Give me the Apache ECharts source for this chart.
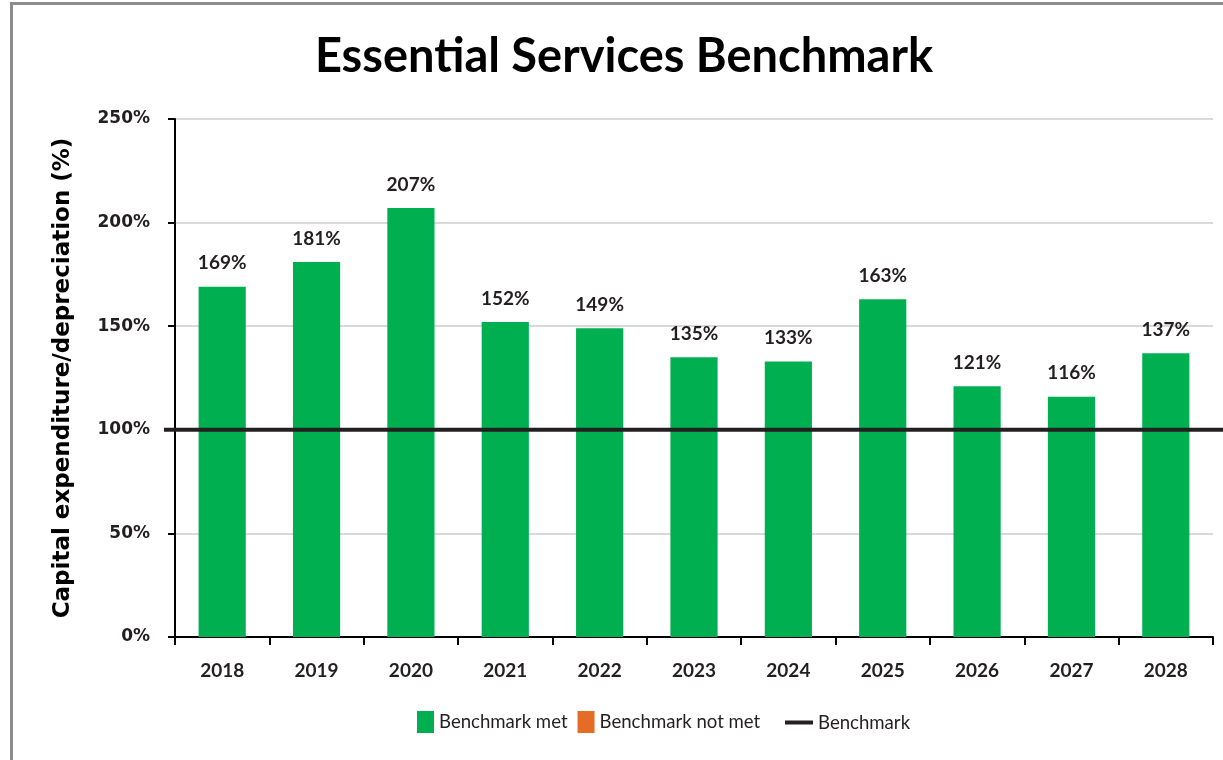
<!DOCTYPE html>
<html>
<head>
<meta charset="utf-8">
<title>Essential Services Benchmark</title>
<script src="https://cdn.jsdelivr.net/npm/echarts@6/dist/echarts.min.js"></script>
<style>
  html, body { margin: 0; padding: 0; background: #ffffff; }
  #chart { width: 1223px; height: 760px; }
</style>
</head>
<body>
<div id="chart"></div>
<script>
// Capital expenditure as a share of depreciation, by year
const years = ['2018', '2019', '2020', '2021', '2022', '2023', '2024', '2025', '2026', '2027', '2028'];
const benchmarkMet = [169, 181, 207, 152, 149, 135, 133, 163, 121, 116, 137];
const benchmarkNotMet = [];
const benchmarkLevel = 100;
const yTicks = [0, 50, 100, 150, 200, 250];

const ink = '#231f20';
const fontFamily = 'Lato, "Open Sans", sans-serif';
const wideFont = '"DejaVu Sans", Lato, sans-serif';

// Shared vertical extent of the plot
const plotTop = 119;
const plotBottom = 123;

const chart = echarts.init(document.getElementById('chart'), null, { renderer: 'canvas' });

chart.setOption({
  backgroundColor: '#ffffff',
  animation: false,
  graphic: [{
    type: 'rect',
    shape: { x: 11.5, y: 3.5, width: 1400, height: 900 },
    style: { fill: 'none', stroke: '#8c8c8c', lineWidth: 3 },
    silent: true,
    z: 100
  }],
  title: {
    text: 'Essential Services Benchmark',
    left: 619,
    textAlign: 'center',
    top: 28,
    textStyle: { fontFamily, fontWeight: 'bold', fontSize: 47, color: '#000000' }
  },
  legend: [{
    data: ['Benchmark met', 'Benchmark not met'],
    left: 417,
    top: 711,
    padding: 0,
    icon: 'rect',
    itemWidth: 17,
    itemHeight: 22,
    itemGap: 10,
    textStyle: { fontFamily, fontSize: 18.6, color: ink }
  }, {
    data: ['Benchmark'],
    left: 785,
    top: 713,
    padding: 0,
    icon: 'rect',
    itemWidth: 28,
    itemHeight: 4,
    textStyle: { fontFamily, fontSize: 18.6, color: ink }
  }],
  grid: [
    // bars and axes
    { left: 175, right: 10, top: plotTop, bottom: plotBottom, containLabel: false },
    // benchmark rule, which runs slightly past the axis and out to the edge
    { left: 164, right: 0, top: plotTop, bottom: plotBottom, containLabel: false }
  ],
  xAxis: [{
    type: 'category',
    gridIndex: 0,
    data: years,
    axisLine: { lineStyle: { color: '#000000', width: 2 } },
    axisTick: { show: true, length: 8, lineStyle: { color: '#000000', width: 2 } },
    axisLabel: { margin: 24, fontFamily, fontWeight: 'bold', fontSize: 19, color: ink }
  }, {
    type: 'value',
    gridIndex: 1,
    min: 0,
    max: 1,
    show: false
  }],
  yAxis: [{
    type: 'value',
    gridIndex: 0,
    min: yTicks[0],
    max: yTicks[yTicks.length - 1],
    interval: 50,
    name: 'Capital expenditure/depreciation (%)',
    nameLocation: 'middle',
    nameRotate: 90,
    nameGap: 100,
    nameTextStyle: { fontFamily: wideFont, fontWeight: 'bold', fontSize: 23, color: '#000000' },
    axisLine: { show: true, lineStyle: { color: '#000000', width: 2 } },
    axisTick: { show: true, length: 7, lineStyle: { color: '#000000', width: 2 } },
    axisLabel: {
      margin: 25,
      fontFamily: wideFont, fontWeight: 'bold', fontSize: 17, color: ink,
      formatter: v => v + '%'
    },
    splitLine: { lineStyle: { color: '#d9d9d9', width: 2 } }
  }, {
    type: 'value',
    gridIndex: 1,
    min: yTicks[0],
    max: yTicks[yTicks.length - 1],
    show: false
  }],
  series: [{
    name: 'Benchmark met',
    type: 'bar',
    data: benchmarkMet,
    barWidth: '50%',
    barGap: '-100%',
    itemStyle: { color: '#00b050' },
    label: {
      show: true,
      position: 'top',
      distance: 14,
      formatter: p => p.value + '%',
      fontFamily, fontWeight: 'bold', fontSize: 19, color: ink
    },
    z: 2
  }, {
    name: 'Benchmark not met',
    type: 'bar',
    data: benchmarkNotMet,
    barWidth: '50%',
    itemStyle: { color: '#e46c24' },
    z: 2
  }, {
    name: 'Benchmark',
    type: 'line',
    xAxisIndex: 1,
    yAxisIndex: 1,
    data: [[0, benchmarkLevel], [1, benchmarkLevel]],
    symbol: 'none',
    lineStyle: { color: ink, width: 4 },
    itemStyle: { color: ink },
    z: 5
  }]
});
</script>
</body>
</html>
